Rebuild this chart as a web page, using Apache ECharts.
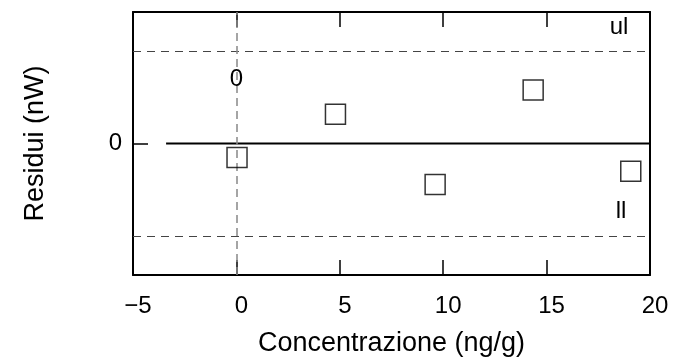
<!DOCTYPE html>
<html>
<head>
<meta charset="utf-8">
<script src="https://cdn.jsdelivr.net/npm/echarts@6/dist/echarts.min.js"></script>
<style>
  html, body { margin: 0; padding: 0; background: #fff; }
  #chart { width: 675px; height: 362px; }
</style>
</head>
<body>
<div id="chart"></div>
<script>
// dati dei residui
var concentrazioni = [0.03, 4.79, 9.61, 14.35, 19.07];
var residui = [-0.152, 0.317, -0.444, 0.58, -0.30];
var xTicks = [-5, 0, 5, 10, 15, 20];
var yTickLabels = ['0'];
var limiteSup = 1;     // ul
var limiteInf = -1;    // ll
var yEstremo = 1.425;
var lineaZeroDa = -3.4;
var etichette = [
    { testo: '0', x: 0, y: 0.69 },
    { testo: 'ul', x: 18.5, y: 1.26 },
    { testo: 'll', x: 18.6, y: -0.74 }
];

var font = 'Liberation Sans, Arial, sans-serif';

(function () {
    var myChart = echarts.init(document.getElementById('chart'));
    var option = {
        animation: false,
        grid: { left: 133, right: 25, top: 12, bottom: 84 },
        xAxis: [
            {
                type: 'value',
                min: xTicks[0],
                max: xTicks[xTicks.length - 1],
                interval: 5,
                name: 'Concentrazione (ng/g)',
                nameLocation: 'middle',
                nameGap: 55,
                nameTextStyle: { color: '#000', fontSize: 27, fontFamily: font },
                axisLine: { onZero: false, lineStyle: { color: '#000', width: 2 } },
                axisTick: { inside: true, length: 15, lineStyle: { color: '#000', width: 1.5 } },
                axisLabel: {
                    color: '#000',
                    fontSize: 24,
                    fontFamily: font,
                    margin: 19,
                    padding: [0, 0, 0, 10],
                    formatter: function (v) { return v < 0 ? '\u2212' + Math.abs(v) : String(v); }
                },
                splitLine: { show: false }
            },
            {
                type: 'value',
                position: 'top',
                min: xTicks[0],
                max: xTicks[xTicks.length - 1],
                interval: 5,
                axisLine: { onZero: false, lineStyle: { color: '#000', width: 2 } },
                axisTick: { inside: true, length: 15, lineStyle: { color: '#000', width: 1.5 } },
                axisLabel: { show: false },
                splitLine: { show: false }
            }
        ],
        yAxis: [
            {
                type: 'value',
                min: -yEstremo,
                max: yEstremo,
                interval: yEstremo,
                name: 'Residui (nW)',
                nameLocation: 'middle',
                nameGap: 84,
                nameTextStyle: { color: '#000', fontSize: 27, fontFamily: font },
                axisLine: { show: true, onZero: false, lineStyle: { color: '#000', width: 2 } },
                axisTick: { inside: true, length: 15, lineStyle: { color: '#000', width: 1.5 } },
                axisLabel: {
                    color: '#000',
                    fontSize: 24,
                    fontFamily: font,
                    margin: 11,
                    formatter: function (v) {
                        return Math.abs(v) < 1e-9 ? yTickLabels[0] : '';
                    }
                },
                splitLine: { show: false }
            },
            {
                type: 'value',
                position: 'right',
                min: -yEstremo,
                max: yEstremo,
                axisLine: { show: true, onZero: false, lineStyle: { color: '#000', width: 2 } },
                axisTick: { show: false },
                axisLabel: { show: false },
                splitLine: { show: false }
            }
        ],
        series: [
            {
                // linea dello zero e limiti
                type: 'line',
                data: [[lineaZeroDa, 0], [xTicks[xTicks.length - 1], 0]],
                symbol: 'none',
                lineStyle: { color: '#000', width: 2 },
                silent: true,
                markLine: {
                    silent: true,
                    symbol: 'none',
                    label: { show: false },
                    data: [
                        { yAxis: limiteSup, lineStyle: { color: '#444', width: 1.2, type: [8, 6] } },
                        { yAxis: limiteInf, lineStyle: { color: '#444', width: 1.2, type: [8, 6] } },
                        { xAxis: 0, lineStyle: { color: '#888', width: 1.5, type: [8, 5] } }
                    ]
                }
            },
            {
                name: 'residui',
                type: 'scatter',
                symbol: 'rect',
                symbolSize: 20,
                itemStyle: { color: 'rgba(255,255,255,0)', borderColor: '#000', borderWidth: 1.5 },
                data: concentrazioni.map(function (c, i) { return [c, residui[i]]; }),
                z: 5
            }
        ]
    };
    myChart.setOption(option);

    // scritte dentro il grafico (0, ul, ll)
    myChart.setOption({
        graphic: etichette.map(function (e) {
            var p = myChart.convertToPixel({ xAxisIndex: 0, yAxisIndex: 0 }, [e.x, e.y]);
            return {
                type: 'text',
                x: p[0],
                y: p[1],
                z: 10,
                style: {
                    text: e.testo,
                    fill: '#000',
                    font: '24px ' + font,
                    align: 'center',
                    verticalAlign: 'middle'
                }
            };
        })
    });
})();
</script>
</body>
</html>
